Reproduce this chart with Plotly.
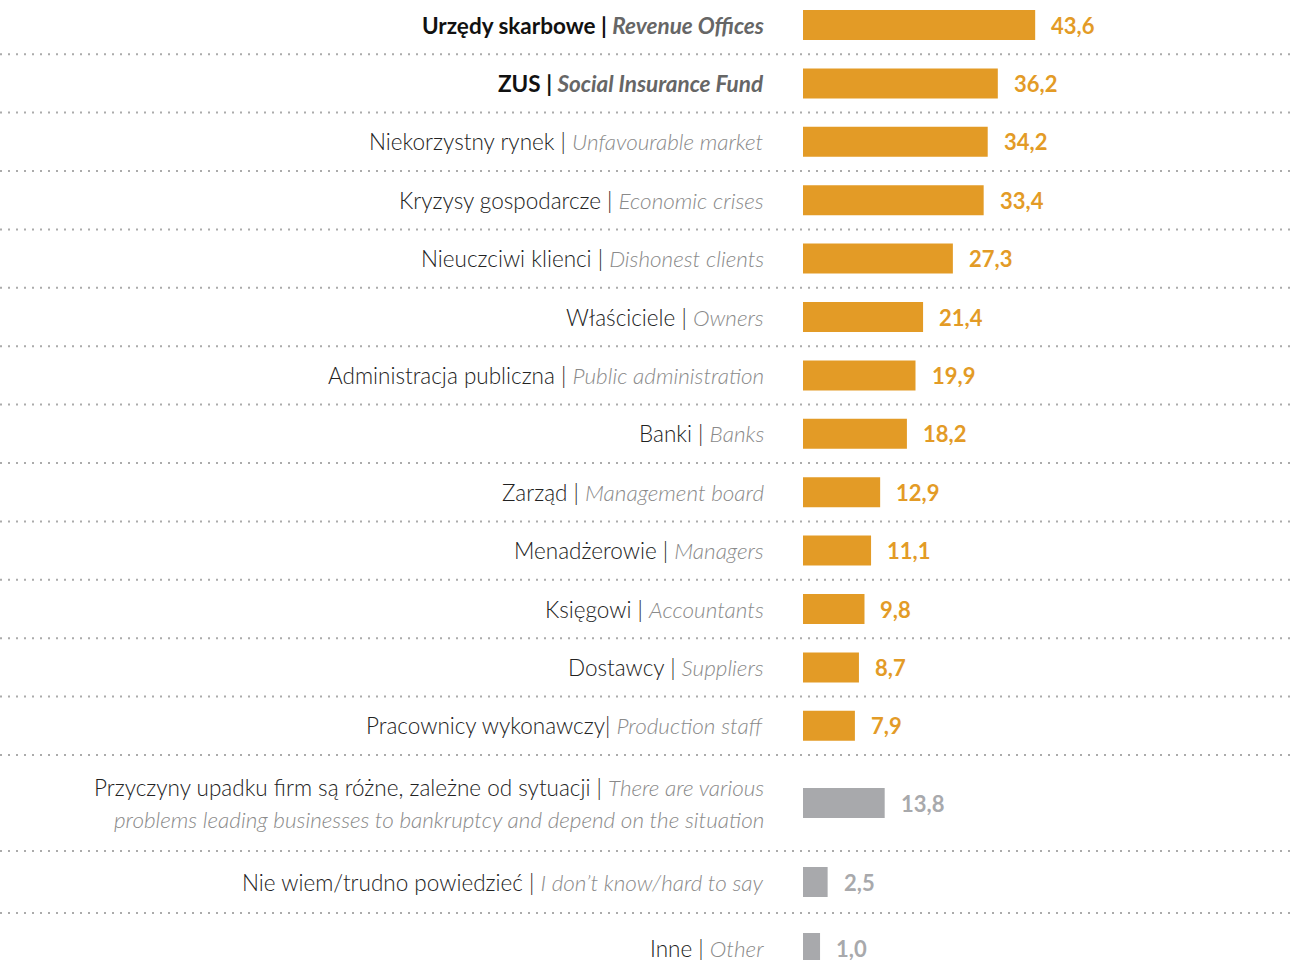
import plotly.graph_objects as go

# Survey answers: who / what is responsible for business failures (%)
labels_pl = [
    "Urzędy skarbowe", "ZUS", "Niekorzystny rynek", "Kryzysy gospodarcze",
    "Nieuczciwi klienci", "Właściciele", "Administracja publiczna", "Banki",
    "Zarząd", "Menadżerowie", "Księgowi", "Dostawcy", "Pracownicy wykonawczy",
    "Przyczyny upadku firm są różne, zależne od sytuacji",
    "Nie wiem/trudno powiedzieć", "Inne",
]
labels_en = [
    "Revenue Offices", "Social Insurance Fund", "Unfavourable market",
    "Economic crises", "Dishonest clients", "Owners", "Public administration",
    "Banks", "Management board", "Managers", "Accountants", "Suppliers",
    "Production staff",
    "There are various<br>problems leading businesses to bankruptcy and depend on the situation",
    "I don’t know/hard to say", "Other",
]
values = [43.6, 36.2, 34.2, 33.4, 27.3, 21.4, 19.9, 18.2, 12.9, 11.1, 9.8, 8.7,
          7.9, 13.8, 2.5, 1.0]
highlight = [True, True] + [False] * 14          # bold rows
grey_rows = [False] * 13 + [True, True, True]     # general answers

# ---- layout constants (pixels) ----
W, H = 1296, 960
ZERO_PX = 815          # where value 0 sits
BAR_START_PX = 803     # bars begin slightly left of zero (design stub)
PX_PER_UNIT = 5.05
LABEL_RIGHT_PX = 766
BAR_H = 30
ORANGE = "#E39B26"
GREY = "#A8A9AC"
LABEL_SIZE = 22.5

# half heights of every row block, stacked from the top
half = [29.2] * 13 + [48, 31, 35]
centers, seps = [], []
pos = 25 - half[0]
for i, h in enumerate(half):
    if i > 0:
        seps.append(pos)
    centers.append(pos + h)
    pos += 2 * h

stub = (ZERO_PX - BAR_START_PX) / PX_PER_UNIT
x_min = -ZERO_PX / PX_PER_UNIT
x_max = (W - ZERO_PX) / PX_PER_UNIT

colors = [GREY if g else ORANGE for g in grey_rows]

fig = go.Figure(go.Bar(
    x=[v + stub for v in values],
    base=[-stub] * len(values),
    y=centers,
    orientation="h",
    width=BAR_H,
    marker=dict(color=colors, line=dict(width=0)),
    hoverinfo="skip",
))

annotations = []
FONT = "Lato, 'Open Sans', sans-serif"
for i, (pl, en, v) in enumerate(zip(labels_pl, labels_en, values)):
    y = centers[i]
    if highlight[i]:
        pl_col, en_col, weight = "#111111", "#666666", 700
    else:
        pl_col, en_col, weight = "#222222", "#8a8a8a", 300
    sep = "| " if pl.endswith("wykonawczy") else " | "
    en_lines = en.split("<br>")
    lines = [f"<span style='color:{pl_col}'>{pl}{sep}</span>"
             f"<span style='color:{en_col}'><i>{en_lines[0]}</i></span>"]
    for extra in en_lines[1:]:
        lines.append(f"<span style='color:{en_col}'><i>{extra}</i></span>")
    n = len(lines)
    for k, line in enumerate(lines):
        annotations.append(dict(
            x=LABEL_RIGHT_PX / W, xref="paper", xanchor="right",
            y=y + (k - (n - 1) / 2) * 32, yref="y", yanchor="middle",
            text=line, showarrow=False,
            font=dict(family=FONT, size=LABEL_SIZE, weight=weight, color=pl_col),
        ))
    annotations.append(dict(
        x=v, xref="x", xanchor="left", xshift=14,
        y=y, yref="y", yanchor="middle",
        text=f"{v:.1f}".replace(".", ","), showarrow=False,
        font=dict(family=FONT, size=22, weight=700, color=colors[i]),
    ))

shapes = [dict(type="line", xref="paper", yref="y", x0=0, x1=1, y0=s, y1=s,
               line=dict(color="#ABABAB", width=2, dash="2px,6px"))
          for s in seps]

fig.update_layout(
    width=W, height=H,
    margin=dict(l=0, r=0, t=0, b=0),
    paper_bgcolor="white", plot_bgcolor="white",
    showlegend=False,
    xaxis=dict(range=[x_min, x_max], visible=False, fixedrange=True),
    yaxis=dict(range=[H, 0], visible=False, fixedrange=True),
    annotations=annotations,
    shapes=shapes,
    font=dict(family=FONT),
)

fig.write_html("out.html", config={"displayModeBar": False})
